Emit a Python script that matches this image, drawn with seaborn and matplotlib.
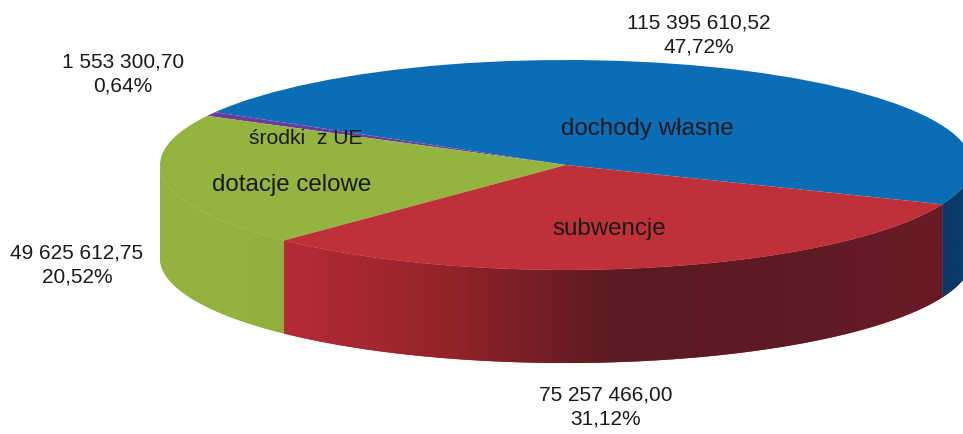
import numpy as np
import matplotlib
matplotlib.use('Agg')
import matplotlib.pyplot as plt
from matplotlib.colors import LinearSegmentedColormap
import seaborn as sns

# Dane do wykresu
kategorie = ['dochody własne', 'środki  z UE', 'dotacje celowe', 'subwencje']
kwoty = [115395610.52, 1553300.70, 49625612.75, 75257466.00]
opisy_kwot = ['115 395 610,52', '1 553 300,70', '49 625 612,75', '75 257 466,00']
procenty = ['47,72%', '0,64%', '20,52%', '31,12%']

kolory = ['#0a6db5', '#6a3d9a', '#93b43f', '#bf3038']
# kolory boku: od lewej do prawej
kolory_boku = [
    ['#0a3a68', '#0a3a68', '#0b4a80'],
    ['#4a2a6a', '#4a2a6a', '#4a2a6a'],
    ['#93b43f', '#93b43f', '#8fb03c'],
    ['#b62c36', '#932329', '#5c1a22', '#5e1a24', '#6a1c26'],
]

sns.set_theme(style='white')
plt.rcParams['font.family'] = ['Liberation Sans', 'DejaVu Sans']

# skala: promien 1 w x = 406 px, w y = 105 px
W, H = 963, 434
cx, cy, rx, ry, glebokosc = 566, 165, 406, 105, 93

fig = plt.figure(figsize=(W / 100, H / 100), dpi=100)
ax = fig.add_axes([0, 0, 1, 1])

wedges, _ = ax.pie(kwoty, colors=kolory, startangle=-22, counterclock=True,
                   radius=1, wedgeprops={'linewidth': 0})
ax.set_aspect('auto')
dz = glebokosc / ry

# bok tortu: tylko przednia czesc (180-360 stopni) kazdego wycinka
for w, kol in zip(wedges, kolory_boku):
    for t1, t2 in [(w.theta1, w.theta2), (w.theta1 + 360, w.theta2 + 360)]:
        a, b = max(t1, 180), min(t2, 360)
        if b <= a:
            continue
        t = np.radians(np.linspace(a, b, 200))
        x, y = np.cos(t), np.sin(t)
        px = np.r_[x, x[::-1]]
        py = np.r_[y, y[::-1] - dz]
        poly = ax.fill(px, py, color=kol[0], lw=0, zorder=1)[0]
        cmap = LinearSegmentedColormap.from_list('bok', kol)
        im = ax.imshow(np.linspace(0, 1, 256)[None, :], cmap=cmap, aspect='auto',
                       extent=(x.min(), x.max(), py.min(), py.max()), zorder=1.5)
        im.set_clip_path(poly)
ax.set_xlim(-cx / rx, (W - cx) / rx)
ax.set_ylim(-(H - cy) / ry, cy / ry)
for w in wedges:
    w.set_zorder(3)


def px_xy(x, y):
    return (x - cx) / rx, (cy - y) / ry


# opisy na wycinkach
poz_nazw = [(647, 129, 17.4), (306, 138, 15.2), (292, 185, 17.4), (609, 229, 17.4)]
for nazwa, (x, y, fs) in zip(kategorie, poz_nazw):
    ax.text(*px_xy(x, y), nazwa, ha='center', va='center', fontsize=fs,
            color='#1a1a1a', zorder=5)

# opisy wartosci
poz_opisow = [(699, 35), (123, 74), (77, 265), (606, 407)]
for kw, pr, (x, y) in zip(opisy_kwot, procenty, poz_opisow):
    ax.text(*px_xy(x, y), kw + '\n' + pr, ha='center', va='center', fontsize=15,
            color='#1a1a1a', linespacing=1.38, zorder=5)

fig.savefig('out.png', dpi=100, facecolor='white')
